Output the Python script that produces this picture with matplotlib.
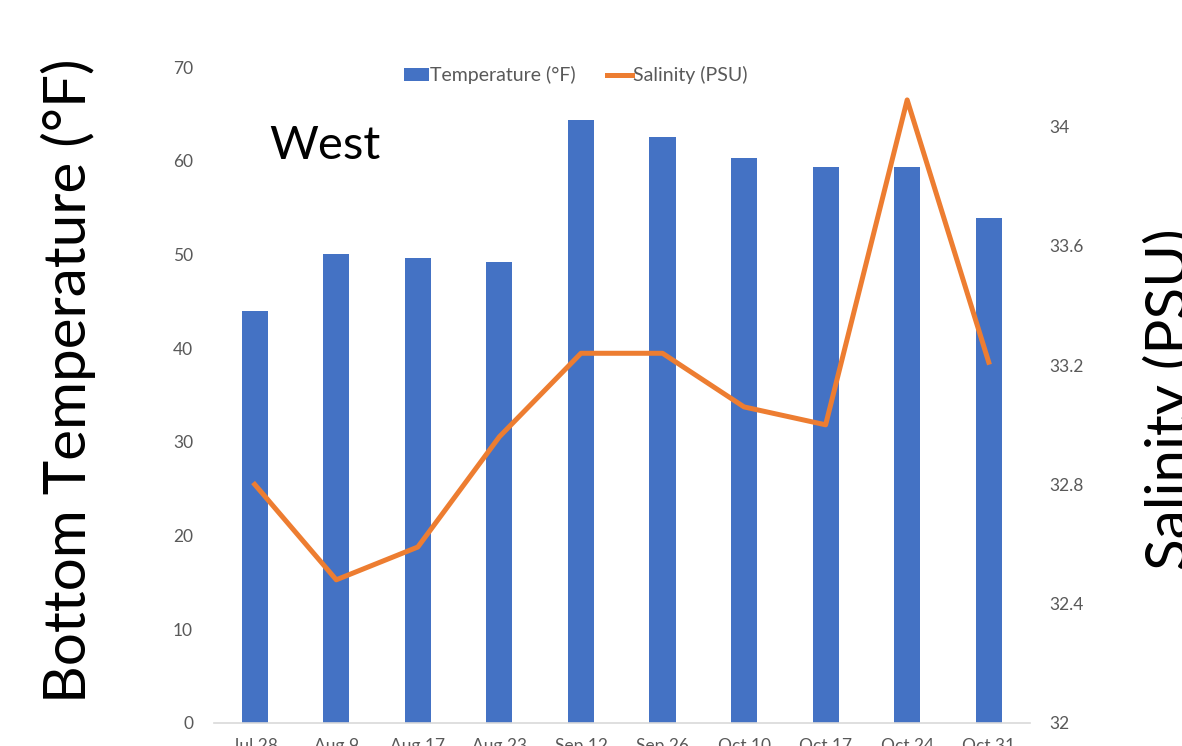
import matplotlib.pyplot as plt

plt.rcParams['font.family'] = ['Lato', 'DejaVu Sans']

dates = ['Jul 28', 'Aug 9', 'Aug 17', 'Aug 23', 'Sep 12',
         'Sep 26', 'Oct 10', 'Oct 17', 'Oct 24', 'Oct 31']
temperature = [44.0, 50.0, 49.6, 49.2, 64.4, 62.5, 60.3, 59.3, 59.3, 53.9]
salinity = [32.80, 32.48, 32.59, 32.96, 33.24, 33.24, 33.06, 33.00, 34.09, 33.21]

fig = plt.figure(figsize=(11.82, 7.46), dpi=100)
ax = fig.add_axes([0.181, 0.031, 0.690, 0.879])
ax2 = ax.twinx()

x = range(len(dates))
bars = ax.bar(x, temperature, width=0.32, color='#4472C4', label='Temperature (°F)', zorder=2)
line, = ax2.plot(x, salinity, color='#ED7D31', lw=3.6, solid_joinstyle='round',
                 label='Salinity (PSU)', zorder=3)

ax.set_xlim(-0.5, len(dates) - 0.5)
ax.set_ylim(0, 70)
ax.set_yticks(range(0, 71, 10))
ax2.set_ylim(32, 34.2)
ax2.set_yticks([32, 32.4, 32.8, 33.2, 33.6, 34])
ax2.set_yticklabels(['32', '32.4', '32.8', '33.2', '33.6', '34'])

ax.set_xticks(list(x))
ax.set_xticklabels(dates)

for a in (ax, ax2):
    for s in a.spines.values():
        s.set_visible(False)
    a.tick_params(length=0, labelsize=12.5, labelcolor='#595959')
ax.spines['bottom'].set_visible(True)
ax.spines['bottom'].set_color('#D9D9D9')
ax.spines['bottom'].set_linewidth(1.2)
ax.tick_params(axis='x', pad=11)
ax.tick_params(axis='y', pad=15)
ax2.tick_params(axis='y', pad=14)

fig.text(0.058, 0.49, 'Bottom Temperature (°F)', rotation=90, fontsize=42,
         ha='center', va='center')
fig.text(0.99, 0.465, 'Salinity (PSU)', rotation=90, fontsize=42,
         ha='center', va='center')
ax.text(0.068, 0.88, 'West', transform=ax.transAxes, fontsize=34,
        ha='left', va='center')

fig.legend(handles=[bars, line], loc='center', bbox_to_anchor=(0.487, 0.899),
           ncol=2, frameon=False, fontsize=14, labelcolor='#595959',
           handlelength=1.3, handletextpad=0.05, columnspacing=1.6)

fig.savefig('out.png', dpi=100)
